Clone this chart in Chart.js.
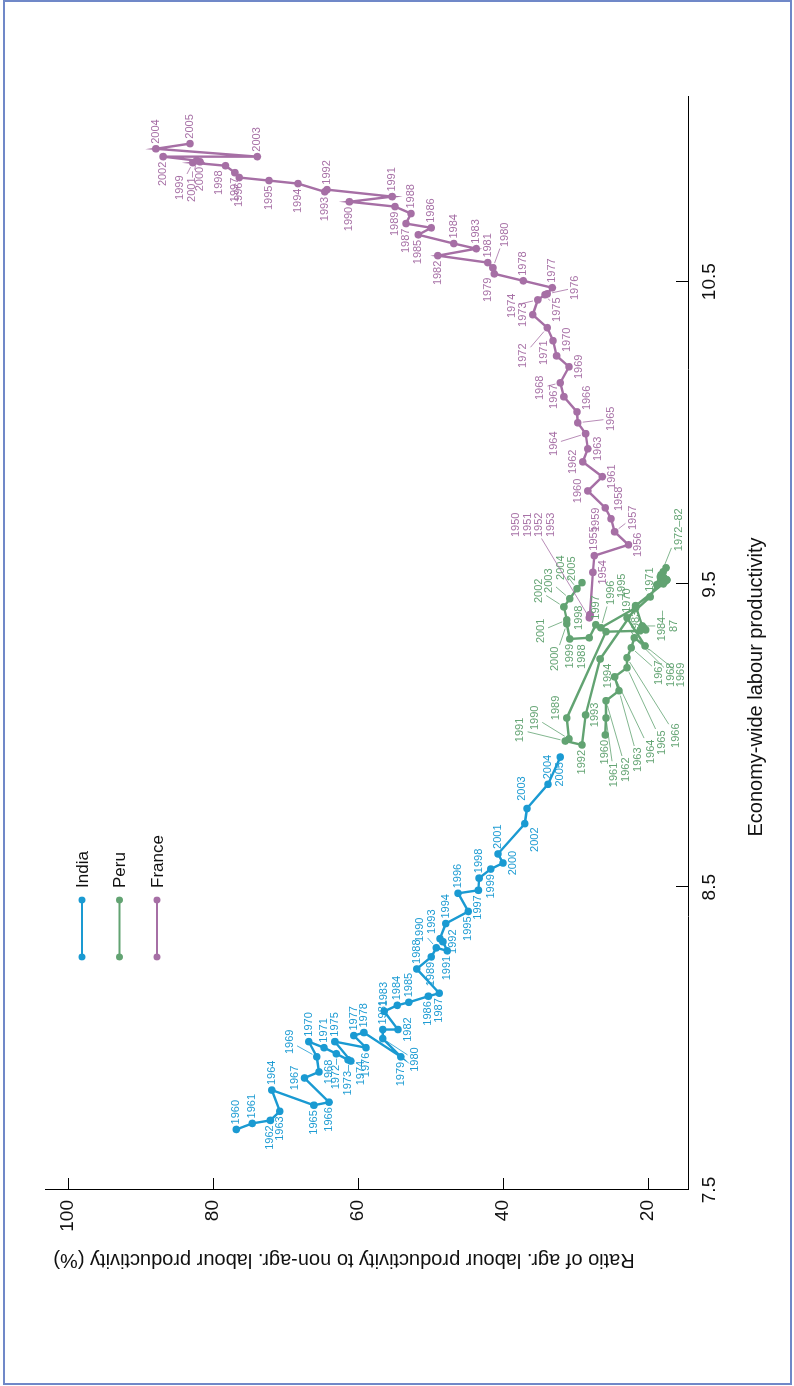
<!DOCTYPE html>
<html>
<head>
<meta charset="utf-8">
<script src="https://cdn.jsdelivr.net/npm/chart.js@4.4.0/dist/chart.umd.min.js"></script>
<style>
  html, body { margin: 0; padding: 0; background: #fff; }
  #page { position: relative; width: 794px; height: 1386px; overflow: hidden; background: #fff; }
  #frame { position: absolute; left: 3px; top: 0; width: 785px; height: 1381px; border: 2px solid #7088c8; }
  #wrap { position: absolute; left: 0; top: 0; width: 1386px; height: 794px;
          transform-origin: 0 0; transform: translate(0, 1386px) rotate(-90deg); }
</style>
</head>
<body>
<div id="page">
  <div id="frame"></div>
  <div id="wrap"><canvas id="chart" width="1386" height="794"></canvas></div>
</div>
<script>
// ---- data ----
var indiaYears = [1960,1961,1962,1963,1964,1965,1966,1967,1968,1969,1970,1971,1972,1973,1974,1975,1976,1977,1978,1979,
                  1980,1981,1982,1983,1984,1985,1986,1987,1988,1989,1990,1991,1992,1993,1994,1995,1996,1997,1998,1999,
                  2000,2001,2002,2003,2004,2005];
var indiaProd = [7.70,7.72,7.73,7.76,7.83,7.78,7.79,7.87,7.89,7.94,7.99,7.97,7.95,7.93,7.926,7.99,7.97,8.01,8.02,7.94,
                 8.00,8.03,8.03,8.09,8.11,8.12,8.14,8.15,8.23,8.27,8.30,8.29,8.32,8.33,8.38,8.42,8.48,8.49,8.53,8.56,
                 8.58,8.61,8.71,8.76,8.84,8.93];
var indiaRatio = [76.8,74.6,72.1,70.8,71.9,66.1,64.0,67.4,65.4,65.7,66.8,64.7,63.0,61.4,61.0,63.2,58.9,60.6,59.2,54.1,
                  56.6,56.6,54.5,56.4,54.6,53.0,50.3,48.8,51.9,49.9,49.2,47.7,48.3,48.7,47.9,44.8,46.2,43.4,43.3,41.7,
                  40.0,40.7,37.0,36.7,33.8,32.1];

var peruYears = [1960,1961,1962,1963,1964,1965,1966,1967,1968,1969,1970,1971,1972,1973,1974,1975,1976,1977,1978,1979,
                 1980,1981,1982,1983,1984,1985,1986,1987,1988,1989,1990,1991,1992,1993,1994,1995,1996,1997,1998,1999,
                 2000,2001,2002,2003,2004,2005];
var peruProd = [9.003,9.059,9.116,9.149,9.195,9.225,9.258,9.291,9.324,9.297,9.390,9.459,9.499,9.525,9.555,9.542,9.532,9.515,9.522,9.509,
                9.509,9.515,9.502,9.430,9.363,9.350,9.357,9.347,9.344,9.059,8.990,8.983,8.970,9.069,9.254,9.423,9.357,9.367,9.324,9.320,
                9.370,9.383,9.426,9.453,9.486,9.506];
var peruRatio = [25.9,25.8,25.8,24.0,24.6,22.9,22.9,22.3,21.9,20.4,22.9,19.7,18.8,18.3,17.5,17.9,18.2,17.4,17.8,18.3,
                 17.7,17.4,17.9,21.7,20.8,20.3,20.6,21.1,25.8,31.2,30.9,31.4,29.1,28.6,26.6,21.7,26.5,27.2,28.1,30.8,
                 31.2,31.2,31.6,30.8,29.8,29.1];

var franceYears = [1950,1951,1952,1953,1954,1955,1956,1957,1958,1959,1960,1961,1962,1963,1964,1965,1966,1967,1968,1969,
                   1970,1971,1972,1973,1974,1975,1976,1977,1978,1979,1980,1981,1982,1983,1984,1985,1986,1987,1988,1989,
                   1990,1991,1992,1993,1994,1995,1996,1997,1998,1999,2000,2001,2002,2003,2004,2005];
var franceProd = [9.39,9.395,9.40,9.40,9.540,9.595,9.631,9.674,9.717,9.753,9.809,9.856,9.905,9.948,9.998,10.034,10.070,10.120,10.166,10.219,
                  10.255,10.305,10.348,10.391,10.440,10.457,10.460,10.480,10.503,10.526,10.546,10.563,10.586,10.609,10.626,10.655,10.678,10.692,10.725,10.748,
                  10.764,10.781,10.804,10.797,10.824,10.834,10.844,10.860,10.883,10.893,10.896,10.900,10.913,10.913,10.939,10.956];
var franceRatio = [28.1,28.0,28.0,28.0,27.6,27.4,22.7,24.6,25.1,25.9,28.3,26.3,29.0,28.3,28.6,29.7,29.8,31.6,32.1,30.9,
                   32.6,33.1,33.9,35.9,35.2,34.2,33.9,33.2,37.2,41.2,41.4,42.1,49.0,43.7,46.8,51.7,49.9,53.4,52.7,54.9,
                   61.2,55.3,64.3,64.6,68.3,72.3,76.4,77.0,78.3,82.8,81.8,82.3,86.9,73.9,87.9,83.2];

var xTicks = [7.5, 8.5, 9.5, 10.5];
var yTicks = [20, 40, 60, 80, 100];
var xTitle = 'Economy-wide labour productivity';
var yTitle = 'Ratio of agr. labour productivity to non-agr. labour productivity (%)';

// ---- year label text and placement (page terms: A above, B below, L left, R right, or [dx,dy,leader]) ----
var indiaText = {1972: '1972–', 1973: '1973–'};
var indiaPos = {1962:'B',1963:'B',1965:'B',1966:'B',1967:'L',1968:'R',1969:[-27,-15,1],1972:'B',1973:'B',1974:[10,12],
  1976:'B',1979:'B',1980:[32,21,1],1982:'R',1986:'B',1987:'B',1989:'B',1990:[-16,-18,1],1991:'B',1992:'R',
  1993:[-8,-17],1995:'B',1997:'B',1999:'B',2000:'R',2002:[10,16],2003:[-5,-20],2005:'B'};

var peruText = {1972:'1972–82',1973:'',1974:'',1975:'',1976:'',1977:'',1978:'',1979:'',1980:'',1981:'',1982:'',
  1984:'1984–\n87',1985:'',1986:'',1987:''};
var peruPos = {1960:'B',1961:[8,57,1],1962:[20,69,1],1963:[19,69,1],1964:[36,75,1],1965:[35,75,1],1966:[49,78,1],
  1967:[28,25,1],1968:[37,37,1],1969:[36,29,1],1970:'A',1971:'A',1972:[22,-55,1],1983:'B',1984:[26,0,1],
  1988:[-24,25],1989:[-11,-10],1990:[-34,-21,1],1991:[-45,-11,1],1992:'B',1993:'R',1994:[8,17],1995:[-14,-22],
  1996:[10,-35,1],1997:'A',1998:[-10,-20],1999:'B',2000:[-12,35,1],2001:[-26,11,1],2002:[-25,-16,1],
  2003:[-21,-18,1],2004:[-16,-21,1],2005:[-10,-14,1]};

var franceText = {1950:'1950\n1951\n1952\n1953',1951:'',1952:'',1953:'',2001:'2001–'};
var francePos = {1950:[-56,-93,1],1954:'R',1955:'A',1956:'R',1957:[18,-14,1],1958:[8,-20],1959:[-9,12],1960:'L',
  1961:'R',1962:'L',1963:'R',1964:[-32,10,1],1965:[33,-4,1],1966:[10,-14],1967:'L',1968:[-20,5,1],1969:'R',
  1970:[10,-16],1971:[-9,12],1972:[-24,28,1],1973:'L',1974:[-26,6,1],1975:[12,15,1],1976:[28,-6,1],
  1979:[-6,16],1980:[12,-33,1],1982:'B',1985:'B',1987:'B',1989:'B',1990:'B',1993:'B',1994:'B',1995:'B',
  1996:'B',1997:'B',1998:[-6,17],1999:[-13,25,1],2000:'B',2001:[-5,26,1],2002:'B'};

var FONT = '"Liberation Sans", Arial, Helvetica, sans-serif';
var colors = ['#1a9ad2', '#62a372', '#a66fa5'];
var series = [
  {name: 'India', years: indiaYears, text: indiaText, pos: indiaPos},
  {name: 'Peru', years: peruYears, text: peruText, pos: peruPos},
  {name: 'France', years: franceYears, text: franceText, pos: francePos}
];

function toPoints(xs, ys) {
  return xs.map(function (v, i) { return {x: v, y: ys[i]}; });
}

function makeSet(label, xs, ys, color) {
  return {
    label: label,
    data: toPoints(xs, ys),
    showLine: true,
    borderColor: color,
    backgroundColor: color,
    borderWidth: 2.4,
    pointRadius: 3.8,
    pointHoverRadius: 3.8,
    pointBorderWidth: 0,
    pointBackgroundColor: color
  };
}

var yearLabels = {
  id: 'yearLabels',
  afterDatasetsDraw: function (chart) {
    var ctx = chart.ctx;
    ctx.save();
    ctx.font = '11px ' + FONT;
    ctx.textAlign = 'center';
    ctx.textBaseline = 'middle';
    chart.data.datasets.forEach(function (ds, di) {
      var info = series[di];
      var meta = chart.getDatasetMeta(di);
      ctx.fillStyle = ds.borderColor;
      ctx.strokeStyle = ds.borderColor;
      ctx.lineWidth = 0.8;
      meta.data.forEach(function (pt, i) {
        var year = info.years[i];
        var text = info.text[year] !== undefined ? info.text[year] : String(year);
        if (!text) return;
        var lines = text.split('\n');
        var lh = 11.5;
        var w = Math.max.apply(null, lines.map(function (l) { return ctx.measureText(l).width; }));
        var h = lines.length * lh;
        var spec = info.pos[year] || 'A';
        var cx, cy, gap = 5;
        if (spec === 'A') { cx = pt.x + gap + w / 2; cy = pt.y; }
        else if (spec === 'B') { cx = pt.x - gap - w / 2; cy = pt.y; }
        else if (spec === 'L') { cx = pt.x; cy = pt.y - 4 - h / 2; }
        else if (spec === 'R') { cx = pt.x; cy = pt.y + 4 + h / 2; }
        else { cx = pt.x - spec[1]; cy = pt.y + spec[0]; }
        if (Array.isArray(spec) && spec[2]) {
          var vx = cx - pt.x, vy = cy - pt.y;
          var len = Math.sqrt(vx * vx + vy * vy);
          var ux = vx / len, uy = vy / len;
          var t = Math.min((w / 2 + 1.5) / Math.max(Math.abs(ux), 1e-6), (h / 2 + 1.5) / Math.max(Math.abs(uy), 1e-6));
          if (len > t + 6) {
            ctx.beginPath();
            ctx.moveTo(pt.x + ux * 5, pt.y + uy * 5);
            ctx.lineTo(cx - ux * t, cy - uy * t);
            ctx.stroke();
          }
        }
        lines.forEach(function (l, k) {
          ctx.fillText(l, cx, cy - h / 2 + lh * (k + 0.5));
        });
      });
    });
    ctx.restore();
  }
};

var extras = {
  id: 'extras',
  afterDraw: function (chart) {
    var ctx = chart.ctx;
    var area = chart.chartArea;
    var xs = chart.scales.x, ys = chart.scales.y;
    ctx.save();
    // inward tick marks
    ctx.strokeStyle = '#000';
    ctx.lineWidth = 1;
    ctx.beginPath();
    xTicks.forEach(function (v) {
      var px = Math.round(xs.getPixelForValue(v)) + 0.5;
      ctx.moveTo(px, area.bottom);
      ctx.lineTo(px, area.bottom - 12);
    });
    yTicks.forEach(function (v) {
      var py = Math.round(ys.getPixelForValue(v)) + 0.5;
      ctx.moveTo(area.left, py);
      ctx.lineTo(area.left + 12, py);
    });
    ctx.stroke();

    // axis titles
    ctx.fillStyle = '#111';
    ctx.font = '20px ' + FONT;
    ctx.textAlign = 'center';
    ctx.textBaseline = 'middle';
    ctx.fillText(xTitle, 699, 756);
    ctx.save();
    ctx.translate(126, 344);
    ctx.rotate(-Math.PI / 2);
    ctx.fillText(yTitle, 0, 0);
    ctx.restore();

    // legend: line with dots at both ends, then the name
    ctx.font = '17px ' + FONT;
    ctx.textAlign = 'left';
    chart.data.datasets.forEach(function (ds, i) {
      var ly = 82 + i * 37.5;
      ctx.strokeStyle = ds.borderColor;
      ctx.fillStyle = ds.borderColor;
      ctx.lineWidth = 2;
      ctx.beginPath();
      ctx.moveTo(429, ly);
      ctx.lineTo(486, ly);
      ctx.stroke();
      [429, 486].forEach(function (lx) {
        ctx.beginPath();
        ctx.arc(lx, ly, 3.4, 0, Math.PI * 2);
        ctx.fill();
      });
      ctx.fillStyle = '#111';
      ctx.fillText(ds.label, 498, ly + 1);
    });
    ctx.restore();
  }
};

Chart.defaults.font.family = FONT;

new Chart(document.getElementById('chart'), {
  type: 'scatter',
  data: {
    datasets: [
      makeSet('India', indiaProd, indiaRatio, colors[0]),
      makeSet('Peru', peruProd, peruRatio, colors[1]),
      makeSet('France', franceProd, franceRatio, colors[2])
    ]
  },
  options: {
    responsive: false,
    animation: false,
    devicePixelRatio: 1,
    layout: { padding: { left: 0, right: 97, top: 45, bottom: 0 } },
    plugins: { legend: { display: false }, tooltip: { enabled: false } },
    scales: {
      x: {
        type: 'linear',
        min: 7.5,
        max: 11.11,
        afterBuildTicks: function (s) { s.ticks = xTicks.map(function (v) { return {value: v}; }); },
        afterFit: function (s) { s.height = 106; },
        grid: { drawOnChartArea: false, drawTicks: false },
        border: { display: true, color: '#000', width: 1 },
        ticks: { padding: 10, color: '#111', font: { size: 19 }, maxRotation: 0 }
      },
      y: {
        type: 'linear',
        min: 14.48,
        max: 103.2,
        afterBuildTicks: function (s) { s.ticks = yTicks.map(function (v) { return {value: v}; }); },
        afterFit: function (s) { s.width = 196; },
        grid: { drawOnChartArea: false, drawTicks: false },
        border: { display: true, color: '#000', width: 1 },
        ticks: { padding: 10, color: '#111', font: { size: 19 } }
      }
    }
  },
  plugins: [yearLabels, extras]
});
</script>
</body>
</html>
